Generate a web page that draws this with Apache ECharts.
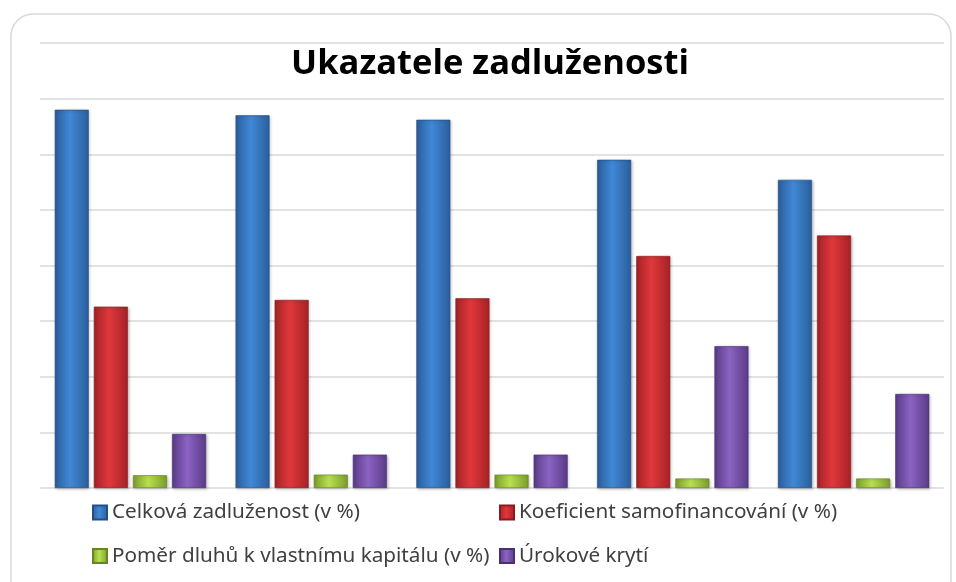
<!DOCTYPE html>
<html>
<head>
<meta charset="utf-8">
<script src="https://cdn.jsdelivr.net/npm/echarts@6/dist/echarts.min.js"></script>
<style>html,body{margin:0;padding:0;background:#fff}#c{width:956px;height:582px}</style>
</head>
<body>
<div id="c"></div>
<script>
var categories = ['1', '2', '3', '4', '5'];
var seriesNames = ['Celková zadluženost (v %)', 'Koeficient samofinancování (v %)', 'Poměr dluhů k vlastnímu kapitálu (v %)', 'Úrokové krytí'];
var celkovaZadluzenost = [68.0, 67.0, 66.2, 59.0, 55.4];
var koeficientSamofinancovani = [32.6, 33.8, 34.1, 41.7, 45.4];
var pomerDluhu = [2.3, 2.4, 2.4, 1.7, 1.7];
var urokoveKryti = [9.7, 6.0, 6.0, 25.5, 16.9];
var yTicks = [0, 10, 20, 30, 40, 50, 60, 70, 80];

function grad(edge, mid) {
  return new echarts.graphic.LinearGradient(0, 0, 1, 0, [
    {offset: 0, color: edge},
    {offset: 0.45, color: mid},
    {offset: 1, color: edge}
  ]);
}
var styles = [
  {edge: '#2b5e9c', mid: '#4088d6', border: '#234f85', legend: '#3a78c2'},
  {edge: '#a52226', mid: '#e0383c', border: '#8a1c1f', legend: '#d02f33'},
  {edge: '#7b9c2c', mid: '#b8e04e', border: '#66841f', legend: '#9cc83a'},
  {edge: '#5a3b88', mid: '#8b63c2', border: '#4a2f73', legend: '#7650ad'}
];
var dataSets = [celkovaZadluzenost, koeficientSamofinancovani, pomerDluhu, urokoveKryti];

var chart = echarts.init(document.getElementById('c'), null, {renderer: 'canvas'});
var series = dataSets.map(function (d, i) {
  return {
    name: seriesNames[i],
    type: 'bar',
    data: d,
    barWidth: 34,
    barGap: '15%',
    itemStyle: {
      color: grad(styles[i].edge, styles[i].mid),
      borderColor: styles[i].border,
      borderWidth: 0.6,
      shadowColor: 'rgba(0,0,0,0.25)',
      shadowBlur: 3,
      shadowOffsetX: 1,
      shadowOffsetY: 1
    },
    emphasis: {disabled: true}
  };
});

var legendText = {fontFamily: 'Noto Sans', fontSize: 20.7, color: '#404040'};
function legendCfg(names, left) {
  return {
    data: names,
    orient: 'vertical',
    left: left,
    top: 502,
    padding: 0,
    itemWidth: 14,
    itemHeight: 14,
    itemGap: 22.5,
    icon: 'rect',
    textStyle: legendText,
    selectedMode: false
  };
}
chart.setOption({
  animation: false,
  backgroundColor: '#ffffff',
  color: styles.map(function (s) { return s.legend; }),
  graphic: [{
    type: 'rect',
    shape: {x: 11, y: 14, width: 940, height: 600, r: 22},
    style: {fill: 'none', stroke: '#d9d9d9', lineWidth: 1.5},
    z: -1
  }],
  title: {
    text: 'Ukazatele zadluženosti',
    left: 490,
    top: 47,
    padding: 0,
    textAlign: 'center',
    textStyle: {fontFamily: 'Open Sans', fontWeight: 'bold', fontSize: 34.5, color: '#000'}
  },
  legend: [legendCfg([seriesNames[0], seriesNames[2]], 92), legendCfg([seriesNames[1], seriesNames[3]], 499)],
  grid: {left: 40, right: 12, top: 43, bottom: 94, containLabel: false},
  xAxis: {
    type: 'category',
    data: categories,
    axisLine: {show: false},
    axisTick: {show: false},
    axisLabel: {show: false}
  },
  yAxis: {
    type: 'value',
    min: yTicks[0],
    max: yTicks[yTicks.length - 1],
    interval: yTicks[1] - yTicks[0],
    axisLine: {show: false},
    axisTick: {show: false},
    axisLabel: {show: false},
    splitLine: {lineStyle: {color: '#d9d9d9', width: 1.5}}
  },
  series: series
});
</script>
</body>
</html>
